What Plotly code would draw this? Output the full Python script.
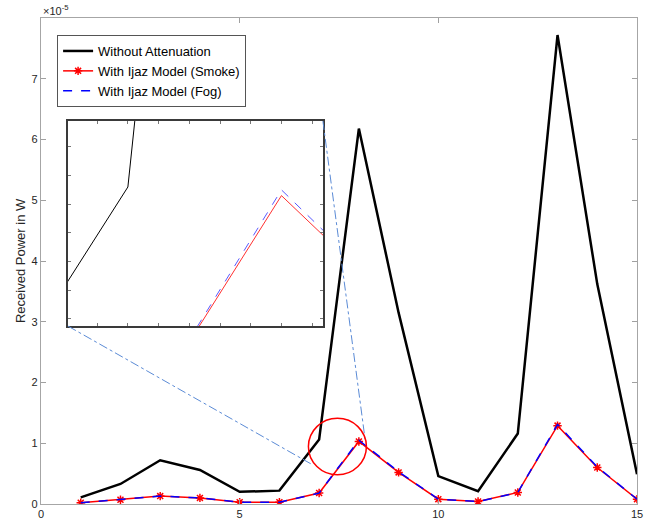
import plotly.graph_objects as go

# ---- data (values in W) ----
x_vals = list(range(1, 16))
without_att = [0.11, 0.33, 0.72, 0.56, 0.20, 0.22, 1.06, 6.18, 3.15, 0.46, 0.21, 1.16, 7.72, 3.62, 0.49]
smoke = [0.02, 0.07, 0.13, 0.10, 0.03, 0.03, 0.18, 1.03, 0.52, 0.08, 0.04, 0.19, 1.29, 0.60, 0.08]
fog = [0.02, 0.07, 0.13, 0.10, 0.03, 0.03, 0.18, 1.05, 0.53, 0.08, 0.04, 0.19, 1.31, 0.61, 0.08]
scale = 1e-5
without_att = [v * scale for v in without_att]
smoke = [v * scale for v in smoke]
fog = [v * scale for v in fog]

y_tick_vals = [i * scale for i in range(0, 8)]
y_tick_text = [str(i) for i in range(0, 8)]
x_tick_vals = [0, 5, 10, 15]

# zoom window shown in inset
inset_xrange = [6.61, 8.27]
inset_yrange = [0.575e-5, 1.29e-5]
# where the connector lines meet the main plot
conn_bl = (6.85, 0.64e-5)
conn_tr = (8.16, 1.05e-5)
# highlight circle
circ = dict(x0=6.73, x1=8.19, y0=0.48e-5, y1=1.41e-5)

main_xrange = [0, 15]
main_yrange = [0, 8e-5]
inset_xdom = [0.0453, 0.473]
inset_ydom = [0.366, 0.788]

fig = go.Figure()

fig.add_trace(go.Scatter(x=x_vals, y=without_att, mode="lines", name="Without Attenuation",
                         line=dict(color="black", width=2.5)))
fig.add_trace(go.Scatter(x=x_vals, y=smoke, mode="lines+markers", name="With Ijaz Model (Smoke)",
                         line=dict(color="#ff0000", width=1.5),
                         marker=dict(symbol="asterisk-open", size=7, color="#ff0000",
                                     line=dict(color="#ff0000", width=1.5))))
fig.add_trace(go.Scatter(x=x_vals, y=fog, mode="lines", name="With Ijaz Model (Fog)",
                         line=dict(color="#0000ff", width=1.5, dash="dash")))

# inset traces
fig.add_trace(go.Scatter(x=x_vals, y=without_att, mode="lines", showlegend=False,
                         line=dict(color="black", width=1), xaxis="x2", yaxis="y2"))
fig.add_trace(go.Scatter(x=x_vals, y=smoke, mode="lines", showlegend=False,
                         line=dict(color="#ff3030", width=1), xaxis="x2", yaxis="y2"))
fig.add_trace(go.Scatter(x=x_vals, y=fog, mode="lines", showlegend=False,
                         line=dict(color="#5a5aff", width=1, dash="dash"), xaxis="x2", yaxis="y2"))

# inset corners in main data coordinates
def dom_to_data(fx, fy):
    return (main_xrange[0] + fx * (main_xrange[1] - main_xrange[0]),
            main_yrange[0] + fy * (main_yrange[1] - main_yrange[0]))

ibl = dom_to_data(inset_xdom[0], inset_ydom[0])
itr = dom_to_data(inset_xdom[1], inset_ydom[1])

shapes = [
    dict(type="line", xref="x", yref="y", x0=ibl[0], y0=ibl[1], x1=conn_bl[0], y1=conn_bl[1],
         line=dict(color="#5b8bd6", width=1, dash="dashdot")),
    dict(type="line", xref="x", yref="y", x0=itr[0], y0=itr[1], x1=conn_tr[0], y1=conn_tr[1],
         line=dict(color="#5b8bd6", width=1, dash="dashdot")),
    dict(type="circle", xref="x", yref="y", line=dict(color="#ff0000", width=1.5), **circ),
]

axis_font = dict(family="Liberation Sans, Arial, sans-serif", size=11, color="#262626")

fig.update_layout(
    width=667, height=527,
    margin=dict(l=41, r=30, t=18, b=23),
    paper_bgcolor="white", plot_bgcolor="white",
    font=dict(family="Liberation Sans, Arial, sans-serif", color="#262626"),
    xaxis=dict(range=main_xrange, tickvals=x_tick_vals, ticks="inside", ticklen=5,
               tickcolor="#a0a0a0", showline=True, linecolor="#a6a6a6", linewidth=1.2,
               mirror="ticks", showgrid=False, zeroline=False, tickfont=axis_font,
               automargin=False),
    yaxis=dict(range=main_yrange, tickvals=y_tick_vals, ticktext=y_tick_text, ticks="inside",
               ticklen=5, tickcolor="#a0a0a0", showline=True, linecolor="#a6a6a6", linewidth=1.2,
               mirror="ticks", showgrid=False, zeroline=False, tickfont=axis_font,
               automargin=False),
    xaxis2=dict(domain=inset_xdom, anchor="y2", range=inset_xrange, dtick=0.2, tick0=0,
                ticks="inside", ticklen=3, tickcolor="#777", showticklabels=False,
                showline=True, linecolor="#3a3a3a", linewidth=1.5, mirror="ticks",
                showgrid=False, zeroline=False, automargin=False),
    yaxis2=dict(domain=inset_ydom, anchor="x2", range=inset_yrange, dtick=0.1e-5, tick0=0,
                ticks="inside", ticklen=3, tickcolor="#777", showticklabels=False,
                showline=True, linecolor="#3a3a3a", linewidth=1.5, mirror="ticks",
                showgrid=False, zeroline=False, automargin=False),
    legend=dict(x=0.027, y=0.965, xanchor="left", yanchor="top", bgcolor="white",
                bordercolor="#555555", borderwidth=1,
                font=dict(family="Liberation Sans, Arial, sans-serif", size=13, color="black"),
                tracegroupgap=0, itemwidth=30),
    shapes=shapes,
    annotations=[
        dict(text="×10<sup>-5</sup>", xref="paper", yref="paper", x=0.0, y=1.0,
             xanchor="left", yanchor="bottom", showarrow=False, yshift=-1,
             font=dict(size=11, color="#262626")),
        dict(text="Received Power in W", xref="paper", yref="paper", x=-0.0352, y=0.5,
             xanchor="center", yanchor="middle", textangle=-90, showarrow=False,
             font=dict(size=13, color="#262626")),
    ],
)

fig.write_html("out.html")
